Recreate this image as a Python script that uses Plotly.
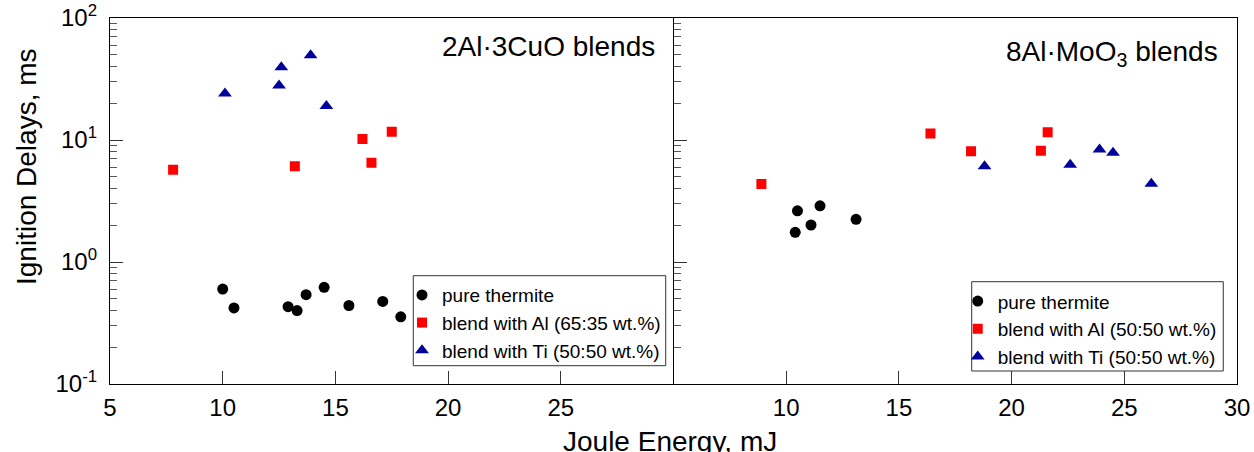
import plotly.graph_objects as go

# ---- Data: 2Al·3CuO blends (left panel) ----
cuo_pure_x = [10.0, 10.5, 12.9, 13.3, 13.7, 14.5, 15.6, 17.1, 17.9]
cuo_pure_y = [0.60, 0.42, 0.43, 0.40, 0.54, 0.62, 0.44, 0.475, 0.355]
cuo_al_x = [7.8, 13.2, 16.2, 16.6, 17.5]
cuo_al_y = [5.7, 6.1, 10.2, 6.5, 11.7]
cuo_ti_x = [10.1, 12.6, 12.5, 13.9, 14.6]
cuo_ti_y = [24.0, 39.5, 28.0, 49.5, 19.0]

# ---- Data: 8Al·MoO3 blends (right panel) ----
moo_pure_x = [10.4, 10.5, 11.1, 11.5, 13.1]
moo_pure_y = [1.75, 2.63, 2.01, 2.89, 2.24]
moo_al_x = [8.9, 16.4, 18.2, 21.3, 21.6]
moo_al_y = [4.36, 11.3, 8.07, 8.17, 11.6]
moo_ti_x = [18.8, 22.6, 23.9, 24.5, 26.2]
moo_ti_y = [6.08, 6.28, 8.37, 7.87, 4.38]

left_labels = ["pure thermite", "blend with Al (65:35 wt.%)", "blend with Ti (50:50 wt.%)"]
right_labels = ["pure thermite", "blend with Al (50:50 wt.%)", "blend with Ti (50:50 wt.%)"]

x_ticks_left = [5, 10, 15, 20, 25]
x_ticks_right = [10, 15, 20, 25, 30]
y_ticks = [0.1, 1, 10, 100]
y_ticktext = ["10<sup>-1</sup>", "10<sup>0</sup>", "10<sup>1</sup>", "10<sup>2</sup>"]
y_minor = [m * 10 ** d for d in (-1, 0, 1) for m in range(2, 10)]

FONT = "Liberation Sans, Arial, sans-serif"
BLACK = "#000000"
RED = "#FF0000"
BLUE = "#00009C"

styles = [
    dict(symbol="circle", color=BLACK, size=11),
    dict(symbol="square", color=RED, size=10),
    dict(symbol="triangle-up", color=BLUE, size=12),
]

fig = go.Figure()
left_sets = [(cuo_pure_x, cuo_pure_y), (cuo_al_x, cuo_al_y), (cuo_ti_x, cuo_ti_y)]
right_sets = [(moo_pure_x, moo_pure_y), (moo_al_x, moo_al_y), (moo_ti_x, moo_ti_y)]

for (xs, ys), lab, st in zip(left_sets, left_labels, styles):
    fig.add_trace(go.Scatter(x=xs, y=ys, mode="markers", name=lab,
                             marker=dict(symbol=st["symbol"], color=st["color"], size=st["size"],
                                         line=dict(width=0)),
                             xaxis="x", yaxis="y", legend="legend"))
for (xs, ys), lab, st in zip(right_sets, right_labels, styles):
    fig.add_trace(go.Scatter(x=xs, y=ys, mode="markers", name=lab,
                             marker=dict(symbol=st["symbol"], color=st["color"], size=st["size"],
                                         line=dict(width=0)),
                             xaxis="x2", yaxis="y2", legend="legend2"))

axis_common = dict(showgrid=False, zeroline=False, showline=True, linecolor=BLACK,
                   linewidth=1.3, ticks="inside", tickcolor="#333",
                   tickwidth=1, automargin=False,
                   tickfont=dict(family=FONT, size=24, color=BLACK))

legend_font = dict(family=FONT, size=19, color=BLACK)

fig.update_layout(
    width=1254, height=452,
    margin=dict(l=110, r=17, t=18, b=68),
    paper_bgcolor="white", plot_bgcolor="white",
    font=dict(family=FONT, color=BLACK),
    xaxis=dict(domain=[0, 0.5], range=[5, 30], tickvals=x_ticks_left, ticklen=13,
               ticklabelstandoff=2, mirror=True, **axis_common),
    xaxis2=dict(domain=[0.5, 1], range=[5, 30], tickvals=x_ticks_right, ticklen=13,
                ticklabelstandoff=2, anchor="y2", mirror=True, **axis_common),
    yaxis=dict(type="log", range=[-1, 2], tickvals=y_ticks, ticktext=y_ticktext, ticklen=13,
               ticklabelstandoff=7, mirror=False,
               minor=dict(ticks="inside", ticklen=7, tickcolor="#555", tickvals=y_minor, showgrid=False),
               **axis_common),
    yaxis2=dict(type="log", range=[-1, 2], tickvals=y_ticks, showticklabels=False, ticklen=13,
                anchor="x2", mirror=True,
                minor=dict(ticks="inside", ticklen=7, tickcolor="#555", tickvals=y_minor, showgrid=False),
                **axis_common),
    legend=dict(x=0.2591, y=0.295, xanchor="left", yanchor="top", bgcolor="rgba(0,0,0,0)",
                borderwidth=0, font=legend_font, tracegroupgap=0),
    legend2=dict(x=0.7522, y=0.278, xanchor="left", yanchor="top", bgcolor="rgba(0,0,0,0)",
                 borderwidth=0, font=legend_font, tracegroupgap=0),
    showlegend=True,
    shapes=[
        dict(type="rect", xref="paper", yref="paper", x0=0.2691, x1=0.4931, y0=0.05, y1=0.2959,
             line=dict(color="#333", width=1), fillcolor="white", layer="below"),
        dict(type="rect", xref="paper", yref="paper", x0=0.7646, x1=0.9878, y0=0.0355, y1=0.2795,
             line=dict(color="#333", width=1), fillcolor="white", layer="below"),
    ],
)

fig.add_annotation(text="2Al·3CuO blends", xref="x domain", yref="y domain", x=0.97, y=0.921,
                   xanchor="right", yanchor="middle", showarrow=False,
                   font=dict(family=FONT, size=28, color=BLACK))
fig.add_annotation(text="8Al·MoO<sub>3</sub> blends", xref="x2 domain", yref="y2 domain", x=0.969, y=0.904,
                   xanchor="right", yanchor="middle", showarrow=False,
                   font=dict(family=FONT, size=28, color=BLACK))
fig.add_annotation(text="Joule Energy, mJ", xref="paper", yref="paper", x=0.497, y=-0.156,
                   xanchor="center", yanchor="middle", showarrow=False,
                   font=dict(family=FONT, size=28, color=BLACK))
fig.add_annotation(text="Ignition Delays, ms", xref="paper", yref="paper", x=-0.0736, y=0.593,
                   xanchor="center", yanchor="middle", textangle=-90, showarrow=False,
                   font=dict(family=FONT, size=28, color=BLACK))

fig.write_html("out.html")
